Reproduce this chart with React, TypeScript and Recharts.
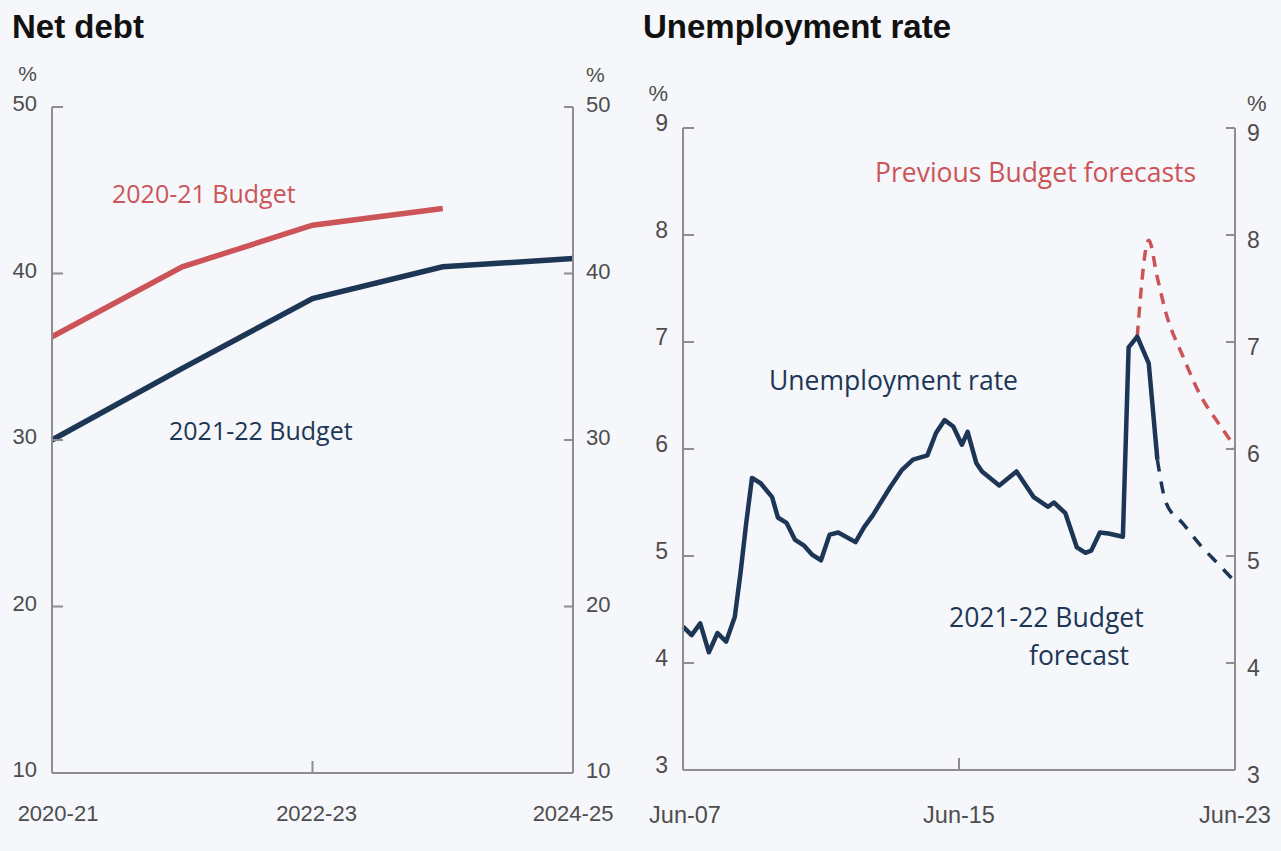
import { Line, LineChart, XAxis, YAxis } from 'recharts'

// Net debt, % of GDP
const debtYears = ['2020-21', '2021-22', '2022-23', '2023-24', '2024-25']
const budget2020 = [36.2, 40.4, 42.9, 43.9, null]
const budget2021 = [30.0, 34.3, 38.5, 40.4, 40.9]
const debtTicks = [10, 20, 30, 40, 50]

// Unemployment rate, %
const rateDates = [
  '2007-06', '2007-09', '2007-12', '2008-03', '2008-06', '2008-09', '2008-12', '2009-02',
  '2009-04', '2009-06', '2009-09', '2010-01', '2010-03', '2010-06', '2010-09', '2010-12',
  '2011-03', '2011-06', '2011-09', '2011-12', '2012-06', '2012-09', '2012-12', '2013-06',
  '2013-10', '2014-02', '2014-07', '2014-10', '2015-01', '2015-04', '2015-07', '2015-09',
  '2015-12', '2016-02', '2016-08', '2017-02', '2017-08', '2018-01', '2018-03', '2018-07',
  '2018-11', '2019-02', '2019-04', '2019-07', '2019-10', '2020-03', '2020-05', '2020-08',
  '2020-12', '2021-03',
]
const rateValues = [
  4.34, 4.26, 4.37, 4.1, 4.28, 4.2, 4.43, 4.84,
  5.31, 5.73, 5.68, 5.55, 5.36, 5.31, 5.15, 5.1,
  5.01, 4.96, 5.2, 5.22, 5.13, 5.27, 5.38, 5.64,
  5.8, 5.9, 5.94, 6.15, 6.27, 6.21, 6.04, 6.16,
  5.87, 5.79, 5.66, 5.79, 5.55, 5.46, 5.5, 5.4,
  5.08, 5.03, 5.05, 5.22, 5.21, 5.18, 6.95, 7.05,
  6.8, 5.9,
]
const forecastDates = ['2021-03', '2021-06', '2021-12', '2022-06', '2022-12', '2023-06']
const forecastValues = [5.9, 5.5, 5.3, 5.1, 4.93, 4.76]
const prevDates = ['2020-08', '2020-12', '2021-03', '2021-06', '2021-12', '2022-06', '2022-12', '2023-06']
const prevValues = [7.05, 7.95, 7.6, 7.27, 6.86, 6.5, 6.25, 6.02]
const rateTicks = [3, 4, 5, 6, 7, 8, 9]
const dateTicks = ['2007-06', '2015-06', '2023-06']
const dateTickLabels = ['Jun-07', 'Jun-15', 'Jun-23']

const navy = '#1e3656'
const red = '#cc5458'
const grey = '#8e8e8e'
const tickText = '#4d4d4d'
const tickFont = '"Liberation Sans", Arial, sans-serif'
const labelFont = '"Open Sans", sans-serif'

const monthOf = (d: string) => {
  const [y, m] = d.split('-').map(Number)
  return (y - 2007) * 12 + (m - 6)
}

const debtRows = debtYears.map((year, i) => ({
  year,
  old: budget2020[i],
  now: budget2021[i],
}))

const rateMap = new Map<number, any>()
const put = (dates: string[], values: number[], key: string) =>
  dates.forEach((d, i) => {
    const m = monthOf(d)
    const row = rateMap.get(m) ?? { m }
    row[key] = values[i]
    rateMap.set(m, row)
  })
put(rateDates, rateValues, 'actual')
put(forecastDates, forecastValues, 'forecast')
put(prevDates, prevValues, 'prev')
const rateRows = [...rateMap.values()].sort((a, b) => a.m - b.m)
const dateTickMonths = dateTicks.map(monthOf)

function YTick(props: any) {
  const { x, y, payload, side, topValue, gap, dy, size } = props
  const left = side === 'left'
  const axisX = left ? x + gap : x - gap
  const len = left ? 11 : -9
  return (
    <g>
      <line x1={axisX} x2={axisX + len} y1={y} y2={y} stroke={grey} strokeWidth={2} />
      <text
        x={x}
        y={y + dy}
        textAnchor={left ? 'end' : 'start'}
        fill={tickText}
        fontSize={size}
        fontFamily={tickFont}
      >
        {payload.value}
      </text>
      {payload.value === topValue && (
        <text
          x={x}
          y={y + dy - 30}
          textAnchor={left ? 'end' : 'start'}
          fill={tickText}
          fontSize={size - 1}
          fontFamily={tickFont}
        >
          %
        </text>
      )}
    </g>
  )
}

function XTick(props: any) {
  const { x, y, payload, labels, dy, size, shift } = props
  return (
    <g>
      <line x1={x} x2={x} y1={y} y2={y - 12} stroke={grey} strokeWidth={2} />
      <text
        x={x + (shift ? shift[props.index] : 0)}
        y={y + dy}
        textAnchor="middle"
        fill={tickText}
        fontSize={size}
        fontFamily={tickFont}
      >
        {labels ? labels(payload.value) : payload.value}
      </text>
    </g>
  )
}

const axisLine = { stroke: grey, strokeWidth: 2 }

function NetDebt() {
  return (
    <LineChart width={640} height={851} data={debtRows} margin={{ top: 107, right: 0, bottom: 0, left: 0 }}>
      <XAxis
        dataKey="year"
        interval={1}
        height={78}
        tickSize={0}
        tickMargin={0}
        tickLine={false}
        axisLine={axisLine}
        tick={(p: any) => <XTick {...p} dy={48} size={22} shift={[6, 4, 0]} />}
      />
      <YAxis
        yAxisId="l"
        orientation="left"
        width={52}
        domain={[10, 50]}
        ticks={debtTicks}
        tickSize={0}
        tickMargin={15}
        tickLine={false}
        axisLine={axisLine}
        tick={(p: any) => <YTick {...p} side="left" gap={15} topValue={50} dy={4} size={22} />}
      />
      <YAxis
        yAxisId="r"
        orientation="right"
        width={67}
        domain={[10, 50]}
        ticks={debtTicks}
        tickSize={0}
        tickMargin={13}
        tickLine={false}
        axisLine={axisLine}
        tick={(p: any) => <YTick {...p} side="right" gap={13} topValue={50} dy={5} size={22} />}
      />
      <Line yAxisId="l" dataKey="old" stroke={red} strokeWidth={5.5} dot={false} isAnimationActive={false} />
      <Line yAxisId="r" dataKey="now" stroke={navy} strokeWidth={5.5} dot={false} isAnimationActive={false} />
    </LineChart>
  )
}

function Unemployment() {
  return (
    <LineChart width={641} height={851} data={rateRows} margin={{ top: 128, right: 0, bottom: 0, left: 0 }}>
      <XAxis
        dataKey="m"
        type="number"
        domain={[0, 192]}
        ticks={dateTickMonths}
        height={81}
        tickSize={0}
        tickMargin={0}
        tickLine={false}
        axisLine={axisLine}
        tick={(p: any) => (
          <XTick
            {...p}
            dy={53}
            size={23.5}
            shift={[2, 0, 0]}
            labels={(v: number) => dateTickLabels[dateTickMonths.indexOf(v)]}
          />
        )}
      />
      <YAxis
        yAxisId="l"
        orientation="left"
        width={43}
        domain={[3, 9]}
        ticks={rateTicks}
        tickSize={0}
        tickMargin={15}
        tickLine={false}
        axisLine={axisLine}
        tick={(p: any) => <YTick {...p} side="left" gap={15} topValue={9} dy={3} size={23} />}
      />
      <YAxis
        yAxisId="r"
        orientation="right"
        width={46}
        domain={[3, 9]}
        ticks={rateTicks}
        tickSize={0}
        tickMargin={12}
        tickLine={false}
        axisLine={axisLine}
        tick={(p: any) => <YTick {...p} side="right" gap={12} topValue={9} dy={13} size={23} />}
      />
      <Line
        yAxisId="l"
        dataKey="prev"
        type="monotone"
        stroke={red}
        strokeWidth={3.5}
        strokeDasharray="11 8"
        dot={false}
        connectNulls
        isAnimationActive={false}
      />
      <Line
        yAxisId="l"
        dataKey="forecast"
        type="monotone"
        stroke={navy}
        strokeWidth={3.5}
        strokeDasharray="12 10"
        dot={false}
        connectNulls
        isAnimationActive={false}
      />
      <Line
        yAxisId="r"
        dataKey="actual"
        stroke={navy}
        strokeWidth={4.5}
        strokeLinejoin="round"
        dot={false}
        connectNulls
        isAnimationActive={false}
      />
    </LineChart>
  )
}

const label = (left: number, top: number, color: string, text: string, size: number) => (
  <div
    style={{
      position: 'absolute',
      left,
      top,
      color,
      fontFamily: labelFont,
      fontSize: size,
      lineHeight: '30px',
      whiteSpace: 'nowrap',
    }}
  >
    {text}
  </div>
)

const title = (left: number, text: string) => (
  <div
    style={{
      position: 'absolute',
      left,
      top: 8,
      fontFamily: '"Liberation Sans", Arial, sans-serif',
      fontWeight: 700,
      fontSize: 33,
      color: '#111',
      whiteSpace: 'nowrap',
    }}
  >
    {text}
  </div>
)

export default function App() {
  return (
    <div
      style={{
        position: 'absolute',
        left: 0,
        top: 0,
        width: 1281,
        height: 851,
        background: '#f5f7fa',
        overflow: 'hidden',
      }}
    >
      <div style={{ position: 'absolute', left: 0, top: 0 }}>
        <NetDebt />
      </div>
      <div style={{ position: 'absolute', left: 640, top: 0 }}>
        <Unemployment />
      </div>
      {title(12, 'Net debt')}
      {title(643, 'Unemployment rate')}
      {label(112, 178, red, '2020-21 Budget', 25)}
      {label(169, 415, navy, '2021-22 Budget', 25)}
      {label(769, 365, navy, 'Unemployment rate', 26.5)}
      {label(875, 157, red, 'Previous Budget forecasts', 26.5)}
      {label(949, 602, navy, '2021-22 Budget', 26.5)}
      {label(1029, 640, navy, 'forecast', 26.5)}
    </div>
  )
}
